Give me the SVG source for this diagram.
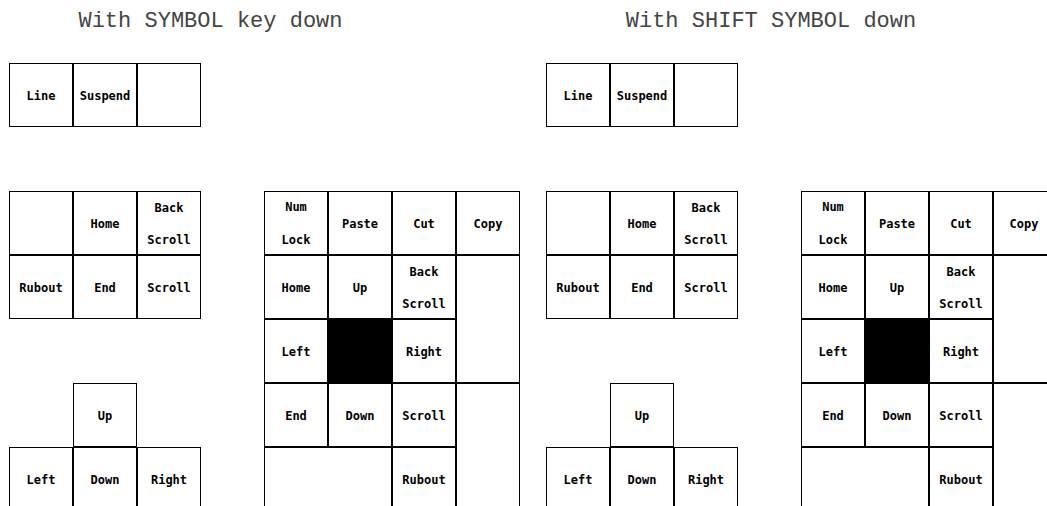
<svg xmlns="http://www.w3.org/2000/svg" width="1047" height="506" viewBox="0 0 1047 506">
<style>
.k{fill:#fff;stroke:#000;stroke-width:1}
.b{fill:#000;stroke:#000;stroke-width:1}
.l{font-family:'DejaVu Sans Mono',monospace;font-size:12px;font-weight:bold;text-anchor:middle;fill:#000}
.t{font-family:'Liberation Mono',monospace;font-size:22px;text-anchor:middle;fill:#444}
</style>
<rect width="1047" height="506" fill="#fff"/>
<g id="titles">
<text class="t" x="210.5" y="27">With SYMBOL key down</text>
<text class="t" x="771" y="27">With SHIFT SYMBOL down</text>
</g>
<g id="connectors"/>
<!-- Left half: SYMBOL -->
<g id="s-line"><rect class="k" x="9.5" y="63.5" width="63" height="63"/><text class="l" x="41" y="100">Line</text></g>
<g id="s-suspend"><rect class="k" x="73.5" y="63.5" width="63" height="63"/><text class="l" x="105" y="100">Suspend</text></g>
<g id="s-blank1"><rect class="k" x="137.5" y="63.5" width="63" height="63"/></g>
<g id="s-blank2"><rect class="k" x="9.5" y="191.5" width="63" height="63"/></g>
<g id="s-home"><rect class="k" x="73.5" y="191.5" width="63" height="63"/><text class="l" x="105" y="228">Home</text></g>
<g id="s-backscroll"><rect class="k" x="137.5" y="191.5" width="63" height="63"/><text class="l" x="169" y="212">Back</text><text class="l" x="169" y="244">Scroll</text></g>
<g id="s-rubout"><rect class="k" x="9.5" y="255.5" width="63" height="63"/><text class="l" x="41" y="292">Rubout</text></g>
<g id="s-end"><rect class="k" x="73.5" y="255.5" width="63" height="63"/><text class="l" x="105" y="292">End</text></g>
<g id="s-scroll"><rect class="k" x="137.5" y="255.5" width="63" height="63"/><text class="l" x="169" y="292">Scroll</text></g>
<g id="s-up"><rect class="k" x="73.5" y="383.5" width="63" height="63"/><text class="l" x="105" y="420">Up</text></g>
<g id="s-left"><rect class="k" x="9.5" y="447.5" width="63" height="63"/><text class="l" x="41" y="484">Left</text></g>
<g id="s-down"><rect class="k" x="73.5" y="447.5" width="63" height="63"/><text class="l" x="105" y="484">Down</text></g>
<g id="s-right"><rect class="k" x="137.5" y="447.5" width="63" height="63"/><text class="l" x="169" y="484">Right</text></g>
<g id="s-numlock"><rect class="k" x="264.5" y="191.5" width="63" height="63"/><text class="l" x="296" y="211">Num</text><text class="l" x="296" y="244">Lock</text></g>
<g id="s-paste"><rect class="k" x="328.5" y="191.5" width="63" height="63"/><text class="l" x="360" y="228">Paste</text></g>
<g id="s-cut"><rect class="k" x="392.5" y="191.5" width="63" height="63"/><text class="l" x="424" y="228">Cut</text></g>
<g id="s-copy"><rect class="k" x="456.5" y="191.5" width="63" height="63"/><text class="l" x="488" y="228">Copy</text></g>
<g id="s-home2"><rect class="k" x="264.5" y="255.5" width="63" height="63"/><text class="l" x="296" y="292">Home</text></g>
<g id="s-up2"><rect class="k" x="328.5" y="255.5" width="63" height="63"/><text class="l" x="360" y="292">Up</text></g>
<g id="s-backscroll2"><rect class="k" x="392.5" y="255.5" width="63" height="63"/><text class="l" x="424" y="276">Back</text><text class="l" x="424" y="308">Scroll</text></g>
<g id="s-tall1"><rect class="k" x="456.5" y="255.5" width="63" height="127"/></g>
<g id="s-left2"><rect class="k" x="264.5" y="319.5" width="63" height="63"/><text class="l" x="296" y="356">Left</text></g>
<g id="s-black"><rect class="b" x="328.5" y="319.5" width="63" height="63"/></g>
<g id="s-right2"><rect class="k" x="392.5" y="319.5" width="63" height="63"/><text class="l" x="424" y="356">Right</text></g>
<g id="s-end2"><rect class="k" x="264.5" y="383.5" width="63" height="63"/><text class="l" x="296" y="420">End</text></g>
<g id="s-down2"><rect class="k" x="328.5" y="383.5" width="63" height="63"/><text class="l" x="360" y="420">Down</text></g>
<g id="s-scroll2"><rect class="k" x="392.5" y="383.5" width="63" height="63"/><text class="l" x="424" y="420">Scroll</text></g>
<g id="s-tall2"><rect class="k" x="456.5" y="383.5" width="63" height="127"/></g>
<g id="s-wide"><rect class="k" x="264.5" y="447.5" width="127" height="63"/></g>
<g id="s-rubout2"><rect class="k" x="392.5" y="447.5" width="63" height="63"/><text class="l" x="424" y="484">Rubout</text></g>
<!-- Right half: SHIFT SYMBOL -->
<g id="h-line"><rect class="k" x="546.5" y="63.5" width="63" height="63"/><text class="l" x="578" y="100">Line</text></g>
<g id="h-suspend"><rect class="k" x="610.5" y="63.5" width="63" height="63"/><text class="l" x="642" y="100">Suspend</text></g>
<g id="h-blank1"><rect class="k" x="674.5" y="63.5" width="63" height="63"/></g>
<g id="h-blank2"><rect class="k" x="546.5" y="191.5" width="63" height="63"/></g>
<g id="h-home"><rect class="k" x="610.5" y="191.5" width="63" height="63"/><text class="l" x="642" y="228">Home</text></g>
<g id="h-backscroll"><rect class="k" x="674.5" y="191.5" width="63" height="63"/><text class="l" x="706" y="212">Back</text><text class="l" x="706" y="244">Scroll</text></g>
<g id="h-rubout"><rect class="k" x="546.5" y="255.5" width="63" height="63"/><text class="l" x="578" y="292">Rubout</text></g>
<g id="h-end"><rect class="k" x="610.5" y="255.5" width="63" height="63"/><text class="l" x="642" y="292">End</text></g>
<g id="h-scroll"><rect class="k" x="674.5" y="255.5" width="63" height="63"/><text class="l" x="706" y="292">Scroll</text></g>
<g id="h-up"><rect class="k" x="610.5" y="383.5" width="63" height="63"/><text class="l" x="642" y="420">Up</text></g>
<g id="h-left"><rect class="k" x="546.5" y="447.5" width="63" height="63"/><text class="l" x="578" y="484">Left</text></g>
<g id="h-down"><rect class="k" x="610.5" y="447.5" width="63" height="63"/><text class="l" x="642" y="484">Down</text></g>
<g id="h-right"><rect class="k" x="674.5" y="447.5" width="63" height="63"/><text class="l" x="706" y="484">Right</text></g>
<g id="h-numlock"><rect class="k" x="801.5" y="191.5" width="63" height="63"/><text class="l" x="833" y="211">Num</text><text class="l" x="833" y="244">Lock</text></g>
<g id="h-paste"><rect class="k" x="865.5" y="191.5" width="63" height="63"/><text class="l" x="897" y="228">Paste</text></g>
<g id="h-cut"><rect class="k" x="929.5" y="191.5" width="63" height="63"/><text class="l" x="961" y="228">Cut</text></g>
<g id="h-copy"><rect class="k" x="993.5" y="191.5" width="63" height="63"/><text class="l" x="1024" y="228">Copy</text></g>
<g id="h-home2"><rect class="k" x="801.5" y="255.5" width="63" height="63"/><text class="l" x="833" y="292">Home</text></g>
<g id="h-up2"><rect class="k" x="865.5" y="255.5" width="63" height="63"/><text class="l" x="897" y="292">Up</text></g>
<g id="h-backscroll2"><rect class="k" x="929.5" y="255.5" width="63" height="63"/><text class="l" x="961" y="276">Back</text><text class="l" x="961" y="308">Scroll</text></g>
<g id="h-tall1"><rect class="k" x="993.5" y="255.5" width="63" height="127"/></g>
<g id="h-left2"><rect class="k" x="801.5" y="319.5" width="63" height="63"/><text class="l" x="833" y="356">Left</text></g>
<g id="h-black"><rect class="b" x="865.5" y="319.5" width="63" height="63"/></g>
<g id="h-right2"><rect class="k" x="929.5" y="319.5" width="63" height="63"/><text class="l" x="961" y="356">Right</text></g>
<g id="h-end2"><rect class="k" x="801.5" y="383.5" width="63" height="63"/><text class="l" x="833" y="420">End</text></g>
<g id="h-down2"><rect class="k" x="865.5" y="383.5" width="63" height="63"/><text class="l" x="897" y="420">Down</text></g>
<g id="h-scroll2"><rect class="k" x="929.5" y="383.5" width="63" height="63"/><text class="l" x="961" y="420">Scroll</text></g>
<g id="h-tall2"><rect class="k" x="993.5" y="383.5" width="63" height="127"/></g>
<g id="h-wide"><rect class="k" x="801.5" y="447.5" width="127" height="63"/></g>
<g id="h-rubout2"><rect class="k" x="929.5" y="447.5" width="63" height="63"/><text class="l" x="961" y="484">Rubout</text></g>
</svg>
